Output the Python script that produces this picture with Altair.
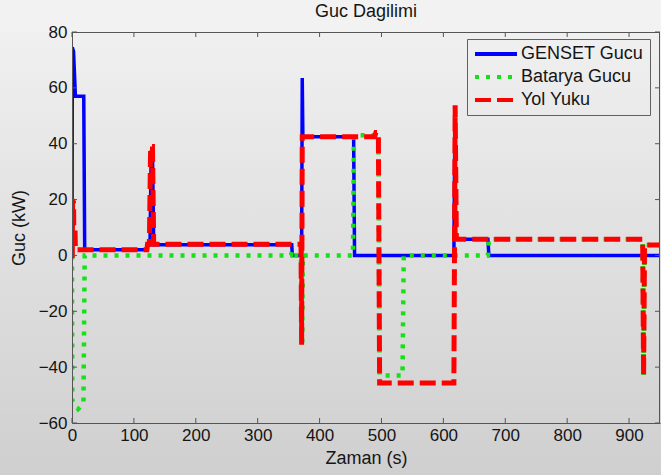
import altair as alt
import pandas as pd

# ---------------- data ----------------
title_text = "Guc Dagilimi"
x_title = "Zaman (s)"
y_title = "Guc (kW)"

series_names = ["GENSET Gucu", "Batarya Gucu", "Yol Yuku"]
series_colors = ["#0000ff", "#16e016", "#ff0000"]
series_dash = [[1, 0], [4, 7], [16, 6]]
series_width = [3.5, 4.5, 5]

x_ticks = [0, 100, 200, 300, 400, 500, 600, 700, 800, 900]
y_ticks = [-60, -40, -20, 0, 20, 40, 60, 80]

genset_t = [0, 0.5, 2.5, 5.5, 19, 20.5, 121, 122, 126, 128, 130, 132, 355, 356,
            371, 372, 373, 455, 456.5, 617, 618.5, 620, 672, 673.5, 950]
genset_p = [0, 74.5, 73, 57, 57, 2, 2, 3.8, 3.8, 37, 37, 3.8, 3.8, 0,
            0, 63.5, 42.5, 42.5, 0, 0, 44, 5.8, 5.8, 0, 0]

batarya_t = [0, 0.5, 10, 18.5, 20.5, 354, 355, 358, 359, 370, 371, 372, 373,
             454, 455.5, 495, 497, 534, 536, 672, 673.5, 922, 923.5, 925, 950]
batarya_p = [0, -52, -55, -53, 0, 0, 1.5, 1.5, 0, 0, -32, -32, 0,
             0, 43, 43, -43, -43, 0, 0, 5.8, 5.8, -43, 3.7, 3.7]

yol_t = [0, 0.5, 1, 2.5, 3, 5, 5.5, 121, 122, 125, 127, 130, 132, 370, 371, 372,
         489, 491, 495, 497, 617, 619, 621, 922, 923.5, 925, 950]
yol_p = [0, 0, 20, 19, 8, 8, 2, 2, 4, 4, 39, 39, 4, 4, -32, 42.5,
         42.5, 44, 44, -45.7, -45.7, 53.8, 5.8, 5.8, -43, 3.7, 3.7]

# ---------------- tables ----------------
rows = []
for name, ts, ps in zip(series_names, [genset_t, batarya_t, yol_t], [genset_p, batarya_p, yol_p]):
    for i, (t, p) in enumerate(zip(ts, ps)):
        rows.append({"t": t, "p": p, "s": name, "i": i})
df = pd.DataFrame(rows)
xt = pd.DataFrame({"t": x_ticks})
yt = pd.DataFrame({"p": y_ticks})
one = pd.DataFrame({"k": [0]})

W, H = 588, 391
PAD = {"left": 72, "top": 32, "right": 1, "bottom": 52}
FONT = "Liberation Sans"
TXT = "#151515"
AX = "#555555"

x_scale = alt.Scale(domain=[0, 950], nice=False, zero=False)
y_scale = alt.Scale(domain=[-60, 80], nice=False, zero=False)

x_axis = alt.Axis(values=x_ticks, title=x_title, grid=False, ticks=False, tickSize=0,
                  domain=True, domainColor=AX, domainWidth=1, labelFont=FONT,
                  labelFontSize=17, labelColor=TXT, labelPadding=4, labelFlush=False,
                  titleFont=FONT, titleFontSize=18, titleFontWeight="normal",
                  titleColor=TXT, titlePadding=6, zindex=1)
y_axis = alt.Axis(values=y_ticks, title=y_title, grid=False, ticks=False, tickSize=0,
                  domain=True, domainColor=AX, domainWidth=1, labelFont=FONT,
                  labelFontSize=17, labelColor=TXT, labelPadding=5, labelFlush=False,
                  titleFont=FONT, titleFontSize=18, titleFontWeight="normal",
                  titleColor=TXT, titlePadding=10, zindex=1)

legend = alt.Legend(title=None, orient="none", legendX=395, legendY=7,
                    symbolType="M -1 0 L 5 0", symbolSize=196, symbolStrokeWidth=4,
                    labelOffset=30, rowPadding=5, padding=6, strokeColor="#606060",
                    labelFont=FONT, labelFontSize=18, labelColor=TXT)

color = alt.Color("s:N", scale=alt.Scale(domain=series_names, range=series_colors), legend=legend)
dash = alt.StrokeDash("s:N", scale=alt.Scale(domain=series_names, range=series_dash), legend=legend)

# background gradient below the top edge of the plot (keeps the title placement free)
bg = alt.Chart(one).mark_rect(
    fill=alt.LinearGradient(gradient="linear",
                            stops=[alt.GradientStop(color="#f0f0f0", offset=0),
                                   alt.GradientStop(color="#cfcfcf", offset=1)],
                            x1=0, x2=0, y1=0, y2=1)
).encode(x=alt.value(-PAD["left"]), x2=alt.value(W + PAD["right"]),
         y=alt.value(0), y2=alt.value(H + PAD["bottom"]))

layers = [bg]
for name, wdt in zip(series_names, series_width):
    layers.append(
        alt.Chart(df).transform_filter(alt.datum.s == name)
        .mark_line(strokeWidth=wdt, strokeCap="butt", strokeJoin="miter", clip=True)
        .encode(x=alt.X("t:Q", scale=x_scale, axis=x_axis),
                y=alt.Y("p:Q", scale=y_scale, axis=y_axis),
                color=color, strokeDash=dash, order=alt.Order("i:Q"))
    )

tick_col = "#555555"
xb = alt.Chart(xt).mark_rule(color=tick_col, strokeWidth=1).encode(
    x=alt.X("t:Q", scale=x_scale, axis=x_axis), y=alt.value(H), y2=alt.value(H - 5))
xtop = alt.Chart(xt).mark_rule(color=tick_col, strokeWidth=1).encode(
    x=alt.X("t:Q", scale=x_scale, axis=x_axis), y=alt.value(0), y2=alt.value(5))
yl = alt.Chart(yt).mark_rule(color=tick_col, strokeWidth=1).encode(
    y=alt.Y("p:Q", scale=y_scale, axis=y_axis), x=alt.value(0), x2=alt.value(5))
yr = alt.Chart(yt).mark_rule(color=tick_col, strokeWidth=1).encode(
    y=alt.Y("p:Q", scale=y_scale, axis=y_axis), x=alt.value(W), x2=alt.value(W - 5))
top_border = alt.Chart(one).mark_rule(color=AX, strokeWidth=1).encode(
    x=alt.value(0), x2=alt.value(W), y=alt.value(0.5))
right_border = alt.Chart(one).mark_rule(color=AX, strokeWidth=1).encode(
    x=alt.value(W - 0.5), y=alt.value(0), y2=alt.value(H))

layers += [xb, xtop, yl, yr, top_border, right_border]

chart = alt.layer(*layers).properties(
    width=W, height=H,
    title=alt.TitleParams(title_text, font=FONT, fontSize=18, fontWeight="normal",
                          color=TXT, anchor="middle", frame="group", offset=2),
    autosize=alt.AutoSizeParams(type="none"),
    padding=PAD,
    background="#f2f2f2",
).configure_view(stroke=None)

chart.save("out.html", embed_options={"renderer": "svg", "actions": False})
